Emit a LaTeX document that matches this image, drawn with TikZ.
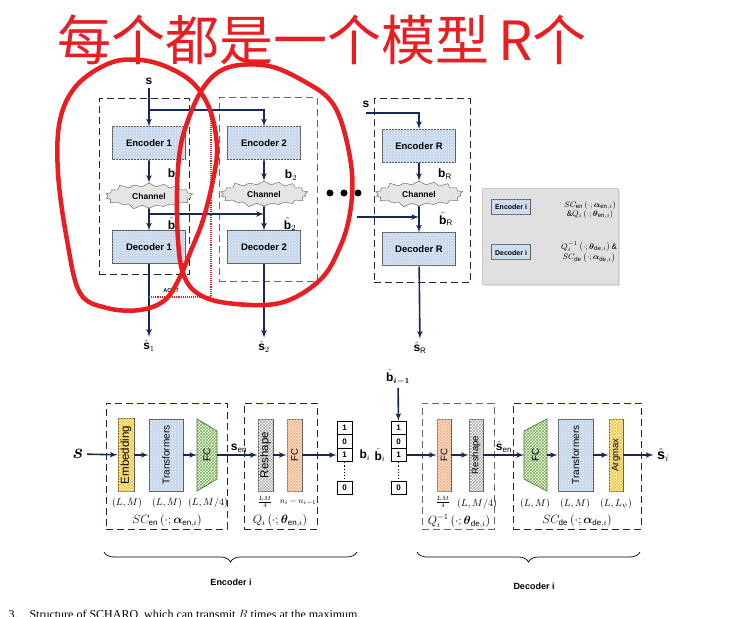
\documentclass[tikz,border=0pt]{standalone}
\usepackage{amsmath}
\usepackage{graphicx}
\usepackage{fontspec}
\setmainfont{Liberation Sans}
\newfontfamily\cjkfont{Noto Sans CJK SC}
\newfontfamily\capfont{Liberation Serif}
\usetikzlibrary{arrows,calc,patterns,shapes.symbols,shadows,decorations.pathreplacing}

\definecolor{navy}{RGB}{22,40,84}
\definecolor{boxblue}{RGB}{196,214,238}
\definecolor{edgegray}{RGB}{90,90,90}
\definecolor{pen}{RGB}{232,30,34}
\definecolor{ackred}{RGB}{200,40,40}
\definecolor{legendgray}{RGB}{224,224,224}
\definecolor{embfill}{RGB}{255,246,214}
\definecolor{embhatch}{RGB}{240,190,40}
\definecolor{fcofill}{RGB}{253,236,226}
\definecolor{fcohatch}{RGB}{244,170,120}
\definecolor{fcghatch}{RGB}{112,173,71}

\tikzset{block/.style={draw=edgegray, line width=1pt, fill=boxblue, postaction={pattern=crosshatch dots, pattern color=white}, minimum width=73pt, minimum height=33pt, font=\bfseries\fontsize{9.5}{11}\selectfont}}
\tikzset{channel/.style={starburst, starburst points=18, starburst point height=5pt, draw=edgegray, fill=gray!20, inner xsep=12pt, inner ysep=3.5pt, font=\bfseries\fontsize{8.5}{9}\selectfont}}
\tikzset{container/.style={draw=navy, line width=1pt, dash pattern=on 7pt off 4pt, inner sep=0pt}}
\tikzset{container2/.style={container, draw=gray!75!navy}}
\tikzset{line/.style={draw=navy, line width=1.6pt, -latex'}}
\tikzset{ackline/.style={draw=ackred, line width=1.1pt, densely dotted, -latex'}}
\tikzset{layer/.style={draw=edgegray, line width=0.8pt, inner sep=0pt, font=\fontsize{9.5}{10}\selectfont}}
\tikzset{embedlayer/.style={layer, fill=embfill, postaction={pattern=crosshatch, pattern color=embhatch}}}
\tikzset{tflayer/.style={layer, fill=boxblue, postaction={pattern=crosshatch dots, pattern color=white}}}
\tikzset{fclayer/.style={layer, fill=fcofill, postaction={pattern=crosshatch, pattern color=fcohatch}}}
\tikzset{reshapelayer/.style={layer, fill=white, postaction={pattern=crosshatch, pattern color=gray!70}}}
\tikzset{greenfc/.style={draw=edgegray, line width=0.8pt, fill=white, postaction={pattern=crosshatch, pattern color=fcghatch}}}
\tikzset{bit/.style={draw=black, line width=0.8pt, minimum width=15pt, minimum height=13.5pt, inner sep=0pt, font=\bfseries\fontsize{8}{9}\selectfont}}
\tikzset{dim/.style={font=\normalsize}}
\tikzset{mlabel/.style={font=\large}}
\tikzset{redpen/.style={draw=pen, line width=4.5pt, line cap=round, line join=round}}
\tikzset{brace/.style={draw=black, line width=0.7pt, decorate, decoration={brace, amplitude=10pt, mirror}}}

\begin{document}
\begin{tikzpicture}[x=1pt,y=-1pt]
    \useasboundingbox (0,0) rectangle (733,617);
    \clip (0,0) rectangle (733,617);

    % top: R encoder/decoder pairs
    \node[container, minimum width=90pt, minimum height=176pt] (grp1) at (144,187) {};
    \node[container2, minimum width=98pt, minimum height=184pt] (grp2) at (268,190) {};
    \node[container, minimum width=96pt, minimum height=184pt] (grpR) at (422,191) {};

    \node[block] (enc1) at (149,143.5) {Encoder 1};
    \node[block] (enc2) at (264,143.5) {Encoder 2};
    \node[block] (encR) at (419,146) {Encoder R};
    \node[channel] (ch1) at (149,196) {Channel};
    \node[channel] (ch2) at (264,194) {Channel};
    \node[channel] (chR) at (419,194) {Channel};
    \node[block] (dec1) at (149,247.5) {Decoder 1};
    \node[block] (dec2) at (264,247.5) {Decoder 2};
    \node[block] (decR) at (419,249.5) {Decoder R};

    \node[mlabel] (s1) at (149,81) {$\mathbf{s}$};
    \node[mlabel] (sR) at (366,104) {$\mathbf{s}$};
    \coordinate (split1) at (149,110);
    \coordinate (sRstart) at (366,113);
    \path [line] (s1) -- (enc1);
    \path [line] (split1) -| (enc2);
    \path [line] (sRstart) -| (encR);

    \path [line] (enc1) -- (ch1);
    \path [line] (enc2) -- (ch2);
    \path [line] (encR) -- (chR);
    \path [line] (ch1) -- (dec1);
    \path [line] (ch2) -- (dec2);
    \path [line] (chR) -- (decR);

    \coordinate (fb1) at (149,214);
    \coordinate (fbR) at (357,217);
    \path [line] (fb1) -- (fb1 -| dec2.north);
    \path [line] (fbR) -- (fbR -| decR.north);

    \node[mlabel] (b1) at (174,174) {$\mathbf{b}_1$};
    \node[mlabel] (bh1) at (174,224) {$\hat{\mathbf{b}}_1$};
    \node[mlabel] (b2) at (291,175) {$\mathbf{b}_2$};
    \node[mlabel] (bh2) at (290,224) {$\hat{\mathbf{b}}_2$};
    \node[mlabel] (bR) at (445,174) {$\mathbf{b}_\mathrm{R}$};
    \node[mlabel] (bhR) at (446,219) {$\hat{\mathbf{b}}_\mathrm{R}$};

    \node[mlabel] (out1) at (149,346) {$\hat{\mathbf{s}}_1$};
    \node[mlabel] (out2) at (264,347) {$\hat{\mathbf{s}}_2$};
    \node[mlabel] (outR) at (420,348) {$\hat{\mathbf{s}}_\mathrm{R}$};
    \path [line] (dec1) -- (out1);
    \path [line] (dec2) -- (out2);
    \path [line] (decR) -- (outR);

    \node[circle, fill=black, inner sep=0pt, minimum size=7pt] (dot1) at (330,193) {};
    \node[circle, fill=black, inner sep=0pt, minimum size=7pt] (dot2) at (344,193) {};
    \node[circle, fill=black, inner sep=0pt, minimum size=7pt] (dot3) at (358,193) {};

    \coordinate (ack1) at (149,297);
    \coordinate (ack2) at (211,297);
    \coordinate (ack3) at (211,111);
    \path [ackline] (ack1) -- (ack2) -- (ack3);
    \node[font=\bfseries\fontsize{5.5}{6}\selectfont] (acklbl) at (171,291) {ACK?};

    % legend
    \node[fill=legendgray, draw=gray!40, minimum width=136pt, minimum height=96pt, drop shadow={opacity=0.25, shadow xshift=2pt, shadow yshift=-2pt}] (legend) at (550,236) {};
    \node[block, minimum width=38pt, minimum height=15pt, font=\bfseries\fontsize{7}{8}\selectfont] (legenc) at (511,207.5) {Encoder i};
    \node[block, minimum width=38pt, minimum height=15pt, font=\bfseries\fontsize{7}{8}\selectfont] (legdec) at (511,252.5) {Decoder i};
    \node[align=center, font=\footnotesize] (legenctxt) at (590,210) {$SC_{\mathrm{en}}\left(\cdot;\boldsymbol{\alpha}_{\mathrm{en},i}\right)$\\$\&Q_i\left(\cdot;\boldsymbol{\theta}_{\mathrm{en},i}\right)$};
    \node[align=center, font=\footnotesize] (legdectxt) at (589,252) {$Q_i^{-1}\left(\cdot;\boldsymbol{\theta}_{\mathrm{de},i}\right)\&$\\$SC_{\mathrm{de}}\left(\cdot;\boldsymbol{\alpha}_{\mathrm{de},i}\right)$};

    % bottom: encoder i and decoder i
    \node[container, minimum width=121pt, minimum height=126pt] (scen) at (166.5,466) {};
    \node[container, minimum width=73pt, minimum height=126pt] (qen) at (280.5,466) {};
    \node[container2, minimum width=72pt, minimum height=126pt] (qde) at (458,466) {};
    \node[container, minimum width=128pt, minimum height=126pt] (scde) at (577,466) {};

    \node[font=\huge] (sin) at (78,454) {$\boldsymbol{s}$};
    \node[embedlayer, minimum width=16pt, minimum height=73pt, font=\fontsize{11.5}{12}\selectfont] (emb) at (126,455) {\rotatebox{90}{Embedding}};
    \node[tflayer, minimum width=34pt, minimum height=72pt, font=\fontsize{10}{11}\selectfont] (tfen) at (166,455) {\rotatebox{90}{Transformers}};
    \draw[greenfc] (197,419) -- (217,431) -- (217,479) -- (197,491) -- cycle;
    \node[font=\fontsize{10}{11}\selectfont] (fcen) at (207,455) {\rotatebox{90}{FC}};
    \coordinate (fcenin) at (197,455);
    \coordinate (fcenout) at (217,455);
    \node[reshapelayer, minimum width=15pt, minimum height=72pt, font=\fontsize{11.5}{12}\selectfont] (rsen) at (265.5,455) {\rotatebox{90}{Reshape}};
    \node[fclayer, minimum width=15pt, minimum height=72pt] (fcq) at (294.5,455) {\rotatebox{90}{FC}};

    \node[bit] (e1) at (344.5,428) {1};
    \node[bit] (e2) at (344.5,441.5) {0};
    \node[bit] (e3) at (344.5,455) {1};
    \node[bit] (e4) at (344.5,488) {0};
    \draw[dotted, line width=1.2pt] (e3) -- (e4);
    \node[mlabel] (bi) at (365,455) {$\mathbf{b}_i$};

    \node[bit] (h1) at (398.5,428) {1};
    \node[bit] (h2) at (398.5,441.5) {0};
    \node[bit] (h3) at (398.5,455) {1};
    \node[bit] (h4) at (398.5,488) {0};
    \draw[dotted, line width=1.2pt] (h3) -- (h4);
    \node[mlabel] (bhi) at (380,455) {$\hat{\mathbf{b}}_i$};
    \node[mlabel] (bhprev) at (398,377) {$\hat{\mathbf{b}}_{\boldsymbol{i-1}}$};

    \node[fclayer, minimum width=14pt, minimum height=72pt] (fcqd) at (444,455) {\rotatebox{90}{FC}};
    \node[reshapelayer, minimum width=14pt, minimum height=72pt] (rsde) at (476,455) {\rotatebox{90}{Reshape}};
    \draw[greenfc] (524,431) -- (547,419) -- (547,491) -- (524,479) -- cycle;
    \node[font=\fontsize{10}{11}\selectfont] (fcde) at (535.5,455) {\rotatebox{90}{FC}};
    \coordinate (fcdein) at (524,455);
    \coordinate (fcdeout) at (547,455);
    \node[tflayer, minimum width=35pt, minimum height=72pt, font=\fontsize{10}{11}\selectfont] (tfde) at (575.5,455) {\rotatebox{90}{Transformers}};
    \node[embedlayer, minimum width=14pt, minimum height=72pt] (argm) at (616,455) {\rotatebox{90}{Argmax}};
    \node[font=\Large] (sout) at (663,455) {$\hat{\mathbf{s}}_i$};

    \path [line] (sin) -- (emb);
    \path [line] (emb) -- (tfen);
    \path [line] (tfen) -- (fcenin);
    \path [line] (fcenout) -- (rsen);
    \path [line] (rsen) -- (fcq);
    \path [line] (fcq) -- (e3);
    \path [line] (bhprev) -- (h1);
    \path [line] (h3) -- (fcqd);
    \path [line] (fcqd) -- (rsde);
    \path [line] (rsde) -- (fcdein);
    \path [line] (fcdeout) -- (tfde);
    \path [line] (tfde) -- (argm);
    \path [line] (argm) -- (sout);

    \node[mlabel] (sen) at (239,448) {$\mathbf{s}_{\mathrm{en}}$};
    \node[mlabel] (shen) at (504,447) {$\hat{\mathbf{s}}_{\mathrm{en}}$};

    \node[dim] (d1) at (127,503) {$(L,M)$};
    \node[dim] (d2) at (167,503) {$(L,M)$};
    \node[dim] (d3) at (208,503) {$(L,M/4)$};
    \node[font=\small] (d4) at (265,502) {$\frac{LM}{4}$};
    \node[font=\footnotesize] (d5) at (298,502) {$n_i-n_{i-1}$};
    \node[mlabel] (d6) at (167,521) {$SC_{\mathrm{en}}\left(\cdot;\boldsymbol{\alpha}_{\mathrm{en},i}\right)$};
    \node[mlabel] (d7) at (280,521) {$Q_i\left(\cdot;\boldsymbol{\theta}_{\mathrm{en},i}\right)$};
    \node[font=\small] (d8) at (443,502) {$\frac{LM}{4}$};
    \node[dim] (d9) at (477,504) {$(L,M/4)$};
    \node[mlabel] (d10) at (459,521) {$Q_i^{-1}\left(\cdot;\boldsymbol{\theta}_{\mathrm{de},i}\right)$};
    \node[dim] (d11) at (535,504) {$(L,M)$};
    \node[dim] (d12) at (575,504) {$(L,M)$};
    \node[dim] (d13) at (616,504) {$(L,L_\psi)$};
    \node[mlabel] (d14) at (577,521) {$SC_{\mathrm{de}}\left(\cdot;\boldsymbol{\alpha}_{\mathrm{de},i}\right)$};

    \coordinate (bre1) at (104,552);
    \coordinate (bre2) at (357,552);
    \coordinate (brd1) at (417,552);
    \coordinate (brd2) at (640,552);
    \draw[brace] (bre1) -- (bre2);
    \draw[brace] (brd1) -- (brd2);
    \node[font=\bfseries\fontsize{9}{10}\selectfont] (enclbl) at (231,582) {Encoder i};
    \node[font=\bfseries\fontsize{9}{10}\selectfont] (declbl) at (534,586) {Decoder i};

    \node[anchor=base west, font=\capfont\fontsize{12}{14}\selectfont] (caption) at (5,618) {3.\quad Structure of SCHARQ, which can transmit $R$ times at the maximum.};

    % handwritten note
    \node[text=pen, font=\cjkfont\fontsize{54}{54}\selectfont] (note) at (322,40) {每个都是一个模型\,R个};
    \draw[redpen] plot[smooth cycle, tension=0.6] coordinates {(77,85) (110,63) (140,60) (167,67) (193,83) (210,110) (217,147) (213,180) (203,220) (190,253) (180,277) (165,300) (140,310) (107,308) (80,293) (67,240) (58,173) (60,120)};
    \draw[redpen] plot[smooth cycle, tension=0.6] coordinates {(217,73) (240,65) (273,67) (307,83) (330,100) (343,127) (352,173) (350,213) (340,247) (320,280) (280,303) (227,303) (197,293) (183,273) (178,240) (177,190) (180,150) (187,123) (200,93)};
\end{tikzpicture}
\end{document}
